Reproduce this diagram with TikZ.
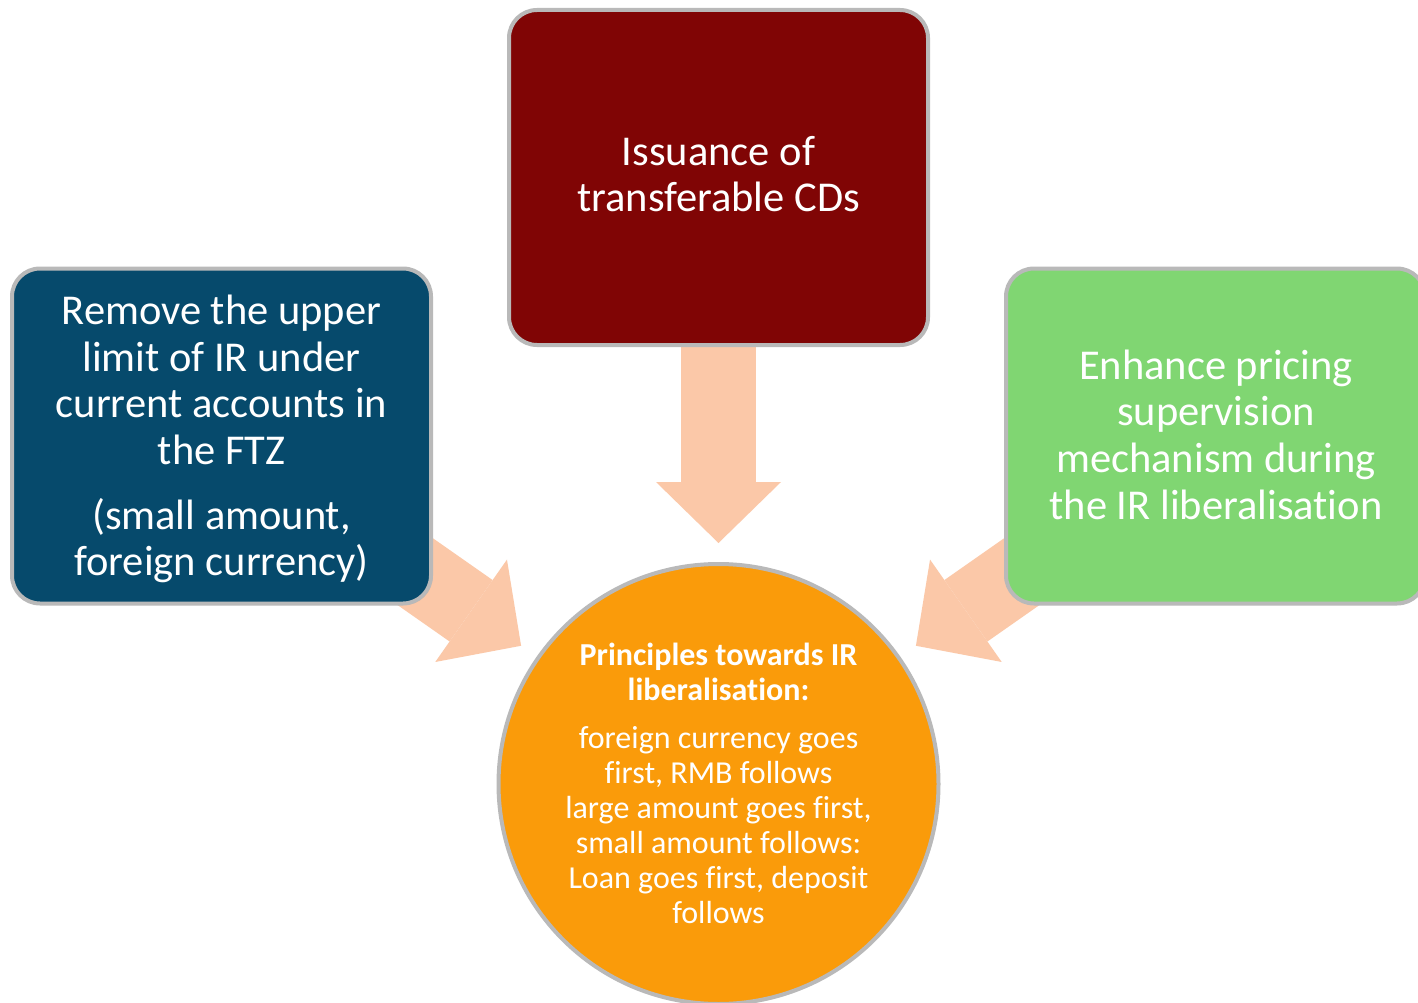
\documentclass[tikz,border=0pt]{standalone}
\usepackage{fontspec}
\setmainfont{Carlito}[Ligatures=NoCommon]
\usetikzlibrary{arrows.meta,shadows,backgrounds}
\definecolor{boxred}{RGB}{128,5,5}
\definecolor{boxblue}{RGB}{6,74,108}
\definecolor{boxgreen}{RGB}{128,214,114}
\definecolor{circorange}{RGB}{250,155,10}
\definecolor{peach}{RGB}{251,200,168}
\definecolor{rim}{RGB}{185,185,185}
\begin{document}
\begin{tikzpicture}[x=1pt,y=-1pt,
  card/.style={rectangle, rounded corners=28pt, draw=rim, line width=4pt,
    minimum width=419pt, minimum height=335pt, inner sep=0pt,
    drop shadow={opacity=0.22, shadow xshift=1.5pt, shadow yshift=-1.5pt}},
  cardtext/.style={text=white, align=center, inner sep=0pt,
    font=\fontsize{42.5}{46.6}\selectfont},
  disc/.style={circle, draw=rim, line width=4pt, minimum size=440pt, inner sep=0pt,
    drop shadow={opacity=0.22, shadow xshift=1.5pt, shadow yshift=-1.5pt}},
  disctext/.style={text=white, align=center, inner sep=0pt,
    font=\fontsize{32}{35}\selectfont},
  bigarrow/.style={draw=peach, line width=75pt,
    -{Triangle[length=61pt,width=125pt,line width=0pt]}, shorten >=241pt}]
\useasboundingbox (0,0) rectangle (1418,1003);
\clip (0,0) rectangle (1418,1003);

\node[card, fill=boxred] (red) at (718.5,177.5) {};
\node[cardtext] (redtxt) at (718.5,174) {Issuance of\\transferable CDs};

\node[card, fill=boxblue] (blue) at (221.5,436) {};
\node[cardtext] (bluetxt) at (221.5,439) {Remove the upper\\limit of IR under\\current accounts in\\the FTZ\\[18pt](small amount,\\foreign currency)};

\node[card, fill=boxgreen] (green) at (1215.5,436) {};
\node[cardtext] (greentxt) at (1216,434.5) {Enhance pricing\\supervision\\mechanism during\\the IR liberalisation};

\node[disc, fill=circorange] (circ) at (718.5,784) {};
\node[disctext] (circtxt) at (718.5,783) {\textbf{Principles towards IR}\\\textbf{liberalisation:}\\[13pt]foreign currency goes\\first, RMB follows\\large amount goes first,\\small amount follows:\\Loan goes first, deposit\\follows};

\begin{scope}[on background layer]
  \fill[white] (0,0) rectangle (1418,1003);
  \draw[bigarrow] (red.center) -- (circ.center);
  \draw[bigarrow] (blue.center) -- (circ.center);
  \draw[bigarrow] (green.center) -- (circ.center);
\end{scope}
\end{tikzpicture}
\end{document}
